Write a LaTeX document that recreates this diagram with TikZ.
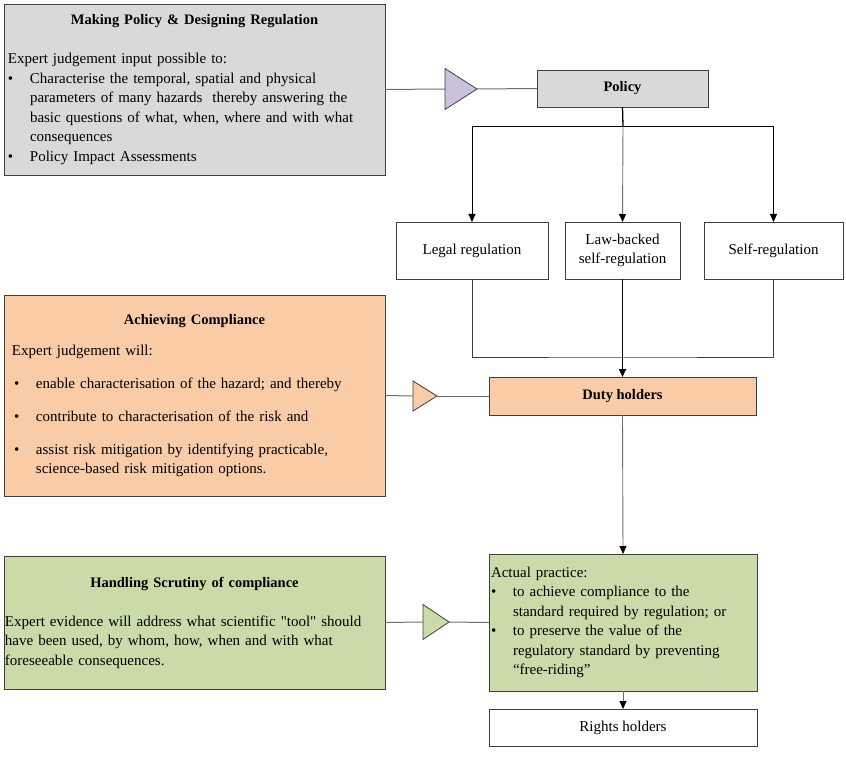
\documentclass[tikz,border=0pt]{standalone}
\usepackage{fontspec}
\setmainfont{Liberation Serif}[Ligatures=TeXOff]
\usetikzlibrary{arrows.meta,shapes.geometric}

\definecolor{policygrey}{HTML}{D9D9D9}
\definecolor{tripurple}{HTML}{CCC1DA}
\definecolor{compliancepeach}{HTML}{F9CBA7}
\definecolor{scrutinygreen}{HTML}{CBDAA9}
\definecolor{boxline}{HTML}{404040}
\definecolor{linkgrey}{HTML}{6E6E6E}

\newcommand{\bulletitem}[1]{\par\hangindent=22pt\hangafter=1\noindent\makebox[22pt][l]{\textbullet}#1}
\newcommand{\headfont}{\fontsize{14.5}{19.5}\selectfont\bfseries}

\tikzset{
	box/.style={draw=boxline, line width=0.9pt, anchor=north west, inner sep=0pt, outer sep=0pt, align=center, font=\fontsize{15}{19.5}\selectfont},
	textbox/.style={box, align=left},
	tri/.style={draw=boxline, line width=0.8pt, isosceles triangle, isosceles triangle stretches, inner sep=0pt, outer sep=0pt, anchor=lower side},
	link/.style={draw=linkgrey, line width=1pt},
	arrow/.style={line width=0.9pt, -{Triangle[length=8pt,width=7pt,color=black]}},
}

\begin{document}
\begin{tikzpicture}[x=1pt, y=-1pt]
	\useasboundingbox (0,0) rectangle (846,759);

	% left hand boxes
	\node[textbox, fill=policygrey, text width=373pt, inner xsep=4pt, minimum height=171pt] (making) at (4,4) {%
		\centerline{\headfont Making Policy \& Designing Regulation}\par\vspace{19.5pt}
		\noindent Expert judgement input possible to:
		\bulletitem{Characterise the temporal, spatial and physical\newline parameters of many hazards\ \ thereby answering the\newline basic questions of what, when, where and with what\newline consequences}
		\bulletitem{Policy Impact Assessments}\par};
	\node[textbox, fill=compliancepeach, text width=373pt, inner xsep=4pt, minimum height=201pt] (achieving) at (4,295) {%
		\centerline{\headfont Achieving Compliance}\par\vspace{12pt}
		\noindent\hspace{4pt}Expert judgement will:\par\vspace{13.5pt}
		\leftskip=6pt
		\bulletitem{enable characterisation of the hazard; and thereby}\par\vspace{13.5pt}
		\bulletitem{contribute to characterisation of the risk and}\par\vspace{13pt}
		\bulletitem{assist risk mitigation by identifying practicable,\newline science-based risk mitigation options.}\par};
	\node[textbox, fill=scrutinygreen, text width=379pt, inner xsep=1pt, minimum height=133pt] (handling) at (4,556) {%
		\centerline{\headfont Handling Scrutiny of compliance}\par\vspace{19.5pt}
		\noindent Expert evidence will address what scientific "tool" should\\have been used, by whom, how, when and with what\\foreseeable consequences.};

	% triangles
	\node[tri, fill=tripurple, minimum width=41pt, minimum height=32pt] (purpletri) at (445,89) {};
	\node[tri, fill=compliancepeach, minimum width=30pt, minimum height=24pt] (peachtri) at (413,396) {};
	\node[tri, fill=scrutinygreen, minimum width=35pt, minimum height=26pt] (greentri) at (423,622) {};

	% right hand boxes
	\node[box, fill=policygrey, minimum width=171pt, minimum height=37pt] (policy) at (537,70) {\headfont Policy};
	\node[box, minimum width=152pt, minimum height=57pt] (legal) at (396,222) {Legal regulation};
	\node[box, minimum width=115pt, minimum height=57pt] (lawbacked) at (565,222) {Law-backed\\self-regulation};
	\node[box, minimum width=139pt, minimum height=57pt] (selfreg) at (704,222) {Self-regulation};
	\node[box, fill=compliancepeach, minimum width=267pt, minimum height=38pt] (duty) at (489,377) {\headfont Duty holders};
	\node[textbox, fill=scrutinygreen, text width=264pt, inner xsep=2pt, minimum height=137pt] (practice) at (489,554) {%
		\noindent Actual practice:
		\bulletitem{to achieve compliance to the\newline standard required by regulation; or}
		\bulletitem{to preserve the value of the\newline regulatory standard by preventing\newline “free-riding”}\par};
	\node[box, minimum width=268pt, minimum height=37pt] (rights) at (489,709) {Rights holders};

	\coordinate (split) at (623,126);
	\coordinate (merge) at (623,357);

	\draw[link] (making.east) -- (purpletri.lower side);
	\draw[link] (purpletri.apex) -- (policy.west);
	\draw[link] (achieving.east) -- (peachtri.lower side);
	\draw[link] (peachtri.apex) -- (duty.west);
	\draw[link] (handling.east) -- (greentri.lower side);
	\draw[link] (greentri.apex) -- (practice.west);

	\draw[line width=1.3pt] (policy.south) -- (split);
	\draw[arrow] (split) -| (legal.north);
	\draw[arrow] (split) -| (selfreg.north);
	\draw[arrow, draw=linkgrey] (split) -- (lawbacked.north);
	\draw[link, draw=boxline] (legal.south) |- (merge) -| (selfreg.south);
	\draw[arrow, line width=1.6pt] (lawbacked.south) -- (duty.north);
	\draw[arrow, draw=linkgrey] (duty.south) -- (practice.north);
	\draw[arrow, draw=linkgrey] (practice.south) -- (rights.north);
\end{tikzpicture}
\end{document}
